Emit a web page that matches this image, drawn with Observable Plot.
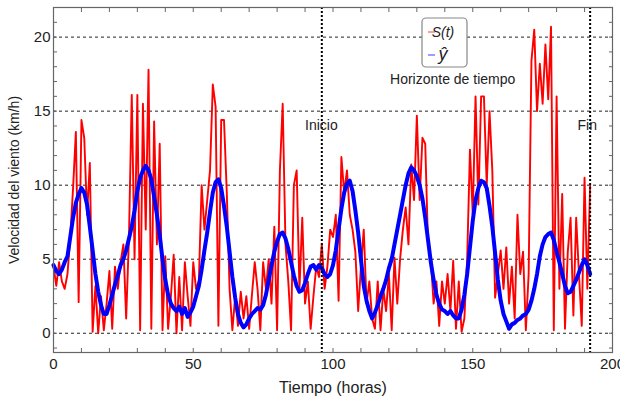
<!DOCTYPE html>
<html><head><meta charset="utf-8">
<script src="https://cdn.jsdelivr.net/npm/d3@7"></script>
<script src="https://cdn.jsdelivr.net/npm/@observablehq/plot@0.6"></script>
<style>
body{margin:0;background:#fff} #chart{width:620px;height:397px}
g[aria-label="x-axis label"] text{font-size:16px}
</style>
</head><body><div id="chart"></div><script>
// Velocidad medida S(t), una muestra por hora (t = 0..192)
const medida = [
  4.5, 3.2, 4.8, 3.5, 3.0, 4.0, 6.5, 9.8, 13.6, 2.1, 14.4, 13.2, 8.0, 11.5,
  0.1, 3.2, 0.0, 2.5, 0.2, 2.0, 4.2, 0.3, 4.5, 3.0, 4.8, 6.0, 1.0, 6.5,
  16.1, 5.0, 16.1, 0.2, 15.5, 7.0, 17.8, 0.3, 14.3, 6.0, 12.8, 0.2,
  5.2, 0.3, 2.5, 5.3, 0.0, 3.8, 0.2, 4.8, 2.5, 0.5, 4.8, 3.0,
  3.5, 10.0, 7.0, 9.0, 11.0, 16.8, 15.3, 0.5, 14.4, 14.4,
  9.5, 3.0, 0.2, 2.5, 0.5, 2.8, 1.0, 2.5, 0.3, 2.6, 4.8, 3.0,
  0.2, 4.8, 3.0, 5.0, 2.0, 7.2, 0.2, 11.0, 15.5, 6.0, 3.5, 0.2,
  10.0, 11.0, 3.0, 7.8, 2.0, 3.5, 0.3, 2.5, 4.5, 3.8, 6.0, 3.0,
  4.5, 7.0, 6.5, 8.0, 2.2, 11.9, 9.5, 11.0, 8.0, 7.0, 5.5, 1.5,
  4.5, 7.0, 2.0, 3.5, 1.0, 0.3, 3.5, 0.2, 3.0, 1.5, 4.0, 0.2,
  5.1, 2.0, 5.0, 7.0, 8.5, 6.0, 11.4, 9.0, 14.7, 9.0,
  13.2, 12.8, 6.0, 5.0, 2.0, 3.5, 0.5, 3.5, 2.0, 4.0, 1.5, 4.9,
  0.3, 3.5, 0.1, 1.0, 5.0, 12.4, 8.0, 16.0, 8.7, 16.0, 16.0, 10.0,
  15.0, 11.0, 2.4, 4.0, 5.6, 3.0, 5.8, 2.0, 4.5, 1.0, 8.0, 4.0,
  5.5, 0.2, 4.0, 18.4, 20.5, 15.0, 18.2, 15.5, 19.5, 15.8, 20.7, 0.2,
  16.0, 3.0, 9.4, 0.3, 5.5, 7.8, 1.2, 7.8, 4.0, 0.5, 10.5, 3.0, 10.0
];
// Estimación ŷ, una muestra por hora (t = 0..192)
const estimada = [
  4.6, 4.2, 4.0, 4.3, 4.8, 5.2, 6.5, 7.8, 8.8, 9.4, 9.8, 9.5,
  8.7, 7.2, 5.6, 4.0, 2.8, 1.9, 1.3, 1.3, 1.9, 2.6, 3.3, 3.9, 4.6,
  5.0, 5.6, 6.4, 7.2, 8.3, 9.6, 10.5, 11.0, 11.3, 11.0, 10.4, 9.2,
  8.0, 6.6, 5.0, 3.6, 2.6, 2.0, 1.7, 1.5, 1.8, 1.3, 1.7, 1.1,
  1.4, 1.8, 2.5, 3.2, 4.3, 5.6, 6.8, 8.2, 9.5, 10.2, 10.4, 9.8,
  8.6, 7.2, 5.5, 3.8, 2.4, 1.3, 0.7, 0.4, 0.6, 1.0, 1.3, 1.5,
  1.7, 1.6, 1.9, 2.6, 3.6, 4.6, 5.5, 6.2, 6.7, 6.8, 6.4, 5.7,
  4.8, 3.9, 3.2, 2.8, 2.9, 3.4, 4.0, 4.5, 4.6, 4.3, 4.6, 4.4,
  4.0, 3.8, 4.0, 4.6, 5.6, 7.0, 8.4, 9.5, 10.1, 10.3, 9.6, 8.3,
  6.8, 5.0, 3.2, 2.2, 1.5, 1.0, 1.4, 1.9, 2.5, 3.0, 3.6, 4.4,
  5.0, 6.0, 7.0, 8.0, 9.0, 10.0, 10.8, 11.2, 11.0, 10.6, 10.0, 9.1,
  7.8, 6.3, 4.8, 3.6, 2.6, 2.0, 1.6, 1.5, 1.3, 1.5, 1.2, 1.0,
  1.0, 1.6, 2.6, 4.0, 5.8, 7.6, 9.0, 9.8, 10.3, 10.2, 9.8, 8.6,
  7.2, 5.4, 3.6, 2.2, 1.3, 0.8, 0.3, 0.6, 0.7, 0.9, 1.0, 1.2,
  1.3, 1.6, 2.2, 3.0, 4.0, 5.2, 6.0, 6.5, 6.7, 6.8, 6.3, 5.5,
  4.8, 4.0, 3.2, 2.7, 2.8, 3.2, 3.6, 4.1, 4.6, 5.0, 4.6, 4.0
];
const xTicks = [0, 50, 100, 150, 200];
const xMinor = [0, 10, 20, 30, 40, 50, 60, 70, 80, 90, 100, 110, 120, 130, 140, 150, 160, 170, 180, 190, 200];
const yTicks = [0, 5, 10, 15, 20];
const yMinor = [-1, 0, 1, 2, 3, 4, 5, 6, 7, 8, 9, 10, 11, 12, 13, 14, 15, 16, 17, 18, 19, 20, 21, 22];
const marcadores = [96, 192];
const anotaciones = [
  {t: 90, v: 14.05, label: "Inicio"},
  {t: 187.5, v: 14.05, label: "Fin"},
  {t: 120.4, v: 17.16, label: "Horizonte de tiempo"}
];

const serie = medida.map((s, i) => ({t: i, s, yhat: estimada[i]}));
const blank = () => "";

const plot = Plot.plot({
  width: 620, height: 397,
  marginLeft: 53, marginRight: 8, marginTop: 7, marginBottom: 45,
  style: {fontFamily: "'Liberation Sans', Arial, sans-serif", fontSize: "14px", color: "#222", background: "#fff"},
  x: {domain: [0, 200]},
  y: {domain: [-1.3, 22]},
  marks: [
    Plot.ruleY(yTicks, {stroke: "#222", strokeWidth: 1, strokeDasharray: "3,3"}),
    Plot.line(serie, {x: "t", y: "s", stroke: "#ff0000", strokeWidth: 1.9}),
    Plot.line(serie, {x: "t", y: "yhat", stroke: "#0000ff", strokeWidth: 4}),
    Plot.ruleX(marcadores, {stroke: "#000", strokeWidth: 2, strokeDasharray: "2,2"}),
    Plot.text(anotaciones, {x: "t", y: "v", text: "label", textAnchor: "start", fontSize: 14, fill: "#222"}),
    Plot.frame({stroke: "#666", strokeWidth: 1.2}),
    Plot.axisX({ticks: xTicks, tickSize: 0, tickPadding: 6, fontSize: 15, label: "Tiempo (horas)", labelAnchor: "center", labelOffset: 40, labelArrow: "none"}),
    Plot.axisX({ticks: xMinor, tickSize: -4, tickFormat: blank, label: null, stroke: "#666"}),
    Plot.axisX({anchor: "top", ticks: xMinor, tickSize: -4, tickFormat: blank, label: null, stroke: "#666"}),
    Plot.axisY({ticks: yTicks, tickSize: 0, tickPadding: 3, fontSize: 15, label: "Velocidad del viento (km/h)", labelAnchor: "center", labelOffset: 44, labelArrow: "none"}),
    Plot.axisY({ticks: yMinor, tickSize: -4, tickFormat: blank, label: null, stroke: "#666"}),
    Plot.axisY({anchor: "right", ticks: yMinor, tickSize: -4, tickFormat: blank, label: null, stroke: "#666"})
  ]
});

// Leyenda
const svg = d3.select(plot);
svg.selectAll('g[aria-label="y-axis label"] text').attr("font-size", 14);
const lg = svg.append("g").attr("font-family", "'Liberation Sans', Arial, sans-serif");
lg.append("rect").attr("x", 422).attr("y", 18).attr("width", 45).attr("height", 49).attr("rx", 4)
  .attr("fill", "#fff").attr("stroke", "#888").attr("stroke-width", 1.2);
const items = [
  {label: "S(t)", color: "#ff0000", y: 32, size: 14},
  {label: "y\u0302", color: "#0000ff", y: 55, size: 18}
];
items.forEach(d => {
  lg.append("line").attr("x1", 428).attr("x2", 435).attr("y1", d.y).attr("y2", d.y)
    .attr("stroke", d.color).attr("stroke-width", 1.1).attr("stroke-opacity", 0.7);
  lg.append("text").attr("x", 443).attr("y", d.y + 5).attr("font-style", "italic")
    .attr("font-size", d.size).attr("fill", "#222").text(d.label);
});

document.getElementById("chart").appendChild(plot);
</script></body></html>
